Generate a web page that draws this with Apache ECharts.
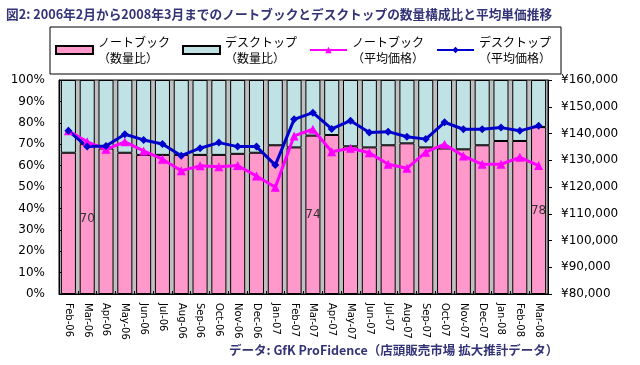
<!DOCTYPE html>
<html>
<head>
<meta charset="utf-8">
<script src="https://cdn.jsdelivr.net/npm/echarts@6/dist/echarts.min.js"></script>
<style>
html,body{margin:0;padding:0;background:#fff;}
#chart{width:640px;height:365px;}
</style>
</head>
<body>
<div id="chart"></div>
<script>
const categories = ['Feb-06','Mar-06','Apr-06','May-06','Jun-06','Jul-06','Aug-06','Sep-06','Oct-06','Nov-06','Dec-06','Jan-07','Feb-07','Mar-07','Apr-07','May-07','Jun-07','Jul-07','Aug-07','Sep-07','Oct-07','Nov-07','Dec-07','Jan-08','Feb-08','Mar-08'];
const notebookShare = [66,70,68,66,65,65,65,65,65,65.5,66,69.5,68.5,74,74.3,69,68.5,69.5,70.4,68.5,68,67.6,69.5,71.5,71.5,78];
const desktopShare = notebookShare.map(v => +(100 - v).toFixed(1));
const notebookPrice = [141000,136900,134100,136900,133500,130400,126100,127900,127600,128000,124100,119900,139100,141600,133200,134500,132800,128500,127000,133000,136000,131600,128500,128500,131100,128000];
const desktopPrice = [141000,135100,135300,139700,137600,136100,131700,134500,136600,135100,135100,128200,145300,147800,141700,144800,140400,140700,138800,137900,144200,141600,141600,142200,141000,142900];
const labeledIdx = [1,13,25];
const shareTicks = {min:0,max:100,interval:10};
const priceTicks = {min:80000,max:160000,interval:10000};

const NAVY = '#333377';
const FONT = 'DejaVu Sans';
const JP = 'Noto Sans CJK JP';

const chart = echarts.init(document.getElementById('chart'), null, {renderer:'canvas'});
const option = {
  animation:false,
  backgroundColor:'#ffffff',
  title:[
    {text:'図2: 2006年2月から2008年3月までのノートブックとデスクトップの数量構成比と平均単価推移',
     left:6, top:8, padding:0,
     textStyle:{fontFamily:JP, fontSize:12.7, fontWeight:'bold', color:NAVY}},
    {text:'データ: GfK ProFidence（店頭販売市場 拡大推計データ）',
     left:229, top:344, padding:0,
     textStyle:{fontFamily:JP, fontSize:12.5, fontWeight:'bold', color:NAVY}}
  ],
  legend:{
    left:50, top:27, padding:[7,5,8,5],
    borderColor:'#000', borderWidth:1,
    itemWidth:37, itemHeight:8, itemGap:7,
    textStyle:{fontFamily:JP, fontSize:12, color:'#000', width:77, lineHeight:16},
    data:[
      {name:'ノートブック\n（数量比）', icon:'rect'},
      {name:'デスクトップ\n（数量比）', icon:'rect'},
      {name:'ノートブック\n（平均価格）'},
      {name:'デスクトップ\n（平均価格）'}
    ]
  },
  grid:{left:59, right:92, top:80, bottom:71, show:true, backgroundColor:'#c0c0c0', borderColor:'#000', borderWidth:1},
  xAxis:{
    type:'category', data:categories, boundaryGap:true,
    axisLine:{lineStyle:{color:'#000', width:1}},
    axisTick:{show:true, inside:true, length:3, lineStyle:{color:'#000'}},
    axisLabel:{rotate:-90, margin:9, fontFamily:FONT, fontSize:10, color:'#000', interval:0}
  },
  yAxis:[
    {type:'value', min:shareTicks.min, max:shareTicks.max, interval:shareTicks.interval,
     axisLine:{show:true, lineStyle:{color:'#000'}},
     axisTick:{show:true, inside:true, length:5, lineStyle:{color:'#000'}},
     splitLine:{show:false},
     axisLabel:{formatter:'{value}%', margin:14, fontFamily:FONT, fontSize:12, color:'#000'}},
    {type:'value', min:priceTicks.min, max:priceTicks.max, interval:priceTicks.interval,
     position:'right',
     axisLine:{show:true, lineStyle:{color:'#000'}},
     axisTick:{show:true, inside:false, length:4, lineStyle:{color:'#000'}},
     splitLine:{show:false},
     axisLabel:{formatter:v => '¥' + String(v).replace(/\B(?=(\d{3})+(?!\d))/g, ','), margin:13, fontFamily:FONT, fontSize:12, color:'#000'}}
  ],
  series:[
    {name:'ノートブック\n（数量比）', type:'bar', stack:'share', yAxisIndex:0,
     barCategoryGap:'20%',
     itemStyle:{color:'#ff99cc', borderColor:'#000', borderWidth:1},
     data:notebookShare.map((v,i) => labeledIdx.includes(i)
        ? {value:v, label:{show:true, position:'inside', formatter:'{c}', fontFamily:FONT, fontSize:12, color:'#333'}}
        : v)},
    {name:'デスクトップ\n（数量比）', type:'bar', stack:'share', yAxisIndex:0,
     barCategoryGap:'20%',
     itemStyle:{color:'#c0e2e4', borderColor:'#000', borderWidth:1},
     data:desktopShare},
    {name:'ノートブック\n（平均価格）', type:'line', yAxisIndex:1,
     symbol:'triangle', symbolSize:9,
     lineStyle:{color:'#ff00ff', width:3},
     itemStyle:{color:'#ff00ff'},
     data:notebookPrice},
    {name:'デスクトップ\n（平均価格）', type:'line', yAxisIndex:1,
     symbol:'diamond', symbolSize:8,
     lineStyle:{color:'#0000cc', width:3},
     itemStyle:{color:'#0000cc'},
     data:desktopPrice}
  ]
};
chart.setOption(option);
</script>
</body>
</html>
